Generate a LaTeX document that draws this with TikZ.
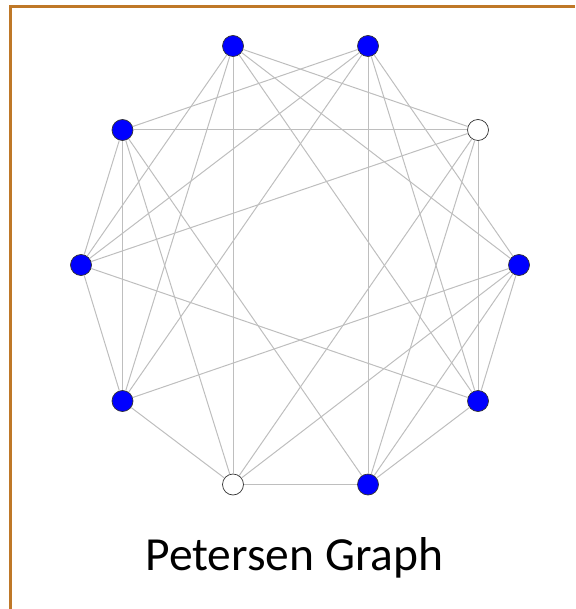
\documentclass[tikz,border=0pt]{standalone}
\usepackage{fontspec}
\setmainfont{Carlito}
\definecolor{framebrown}{RGB}{191,120,40}
\definecolor{linkgray}{RGB}{190,190,190}
\begin{document}
\begin{tikzpicture}[x=1pt,y=-1pt,
  vtx/.style={circle,draw=black!80,line width=0.7pt,minimum size=21pt,inner sep=0pt,fill=blue},
  hole/.style={vtx,fill=white},
  link/.style={linkgray,line width=1pt}]
\useasboundingbox (0,0) rectangle (575,609);
\draw[framebrown,line width=3pt] (10,609) -- (10,7) -- (575,7);
% vertices, clockwise from the right
\node[vtx]  (v0) at (519,265) {};
\node[hole] (v1) at (478,130) {};
\node[vtx]  (v2) at (368,46) {};
\node[vtx]  (v3) at (233,46) {};
\node[vtx]  (v4) at (122.5,130) {};
\node[vtx]  (v5) at (81,265) {};
\node[vtx]  (v6) at (122.5,401) {};
\node[hole] (v7) at (233,484.5) {};
\node[vtx]  (v8) at (368,484.5) {};
\node[vtx]  (v9) at (478,401) {};
% edges
\foreach \a/\b in {0/2,0/3,0/6,0/7,0/8,0/9,1/3,1/4,1/5,1/7,1/8,1/9,
  2/4,2/5,2/6,2/8,2/9,3/5,3/6,3/7,3/9,4/5,4/6,4/7,4/8,5/6,5/9,6/7,7/8,8/9}
  \draw[link] (v\a) -- (v\b);
\node[font=\fontsize{47.5}{52}\selectfont,anchor=base] (title) at (294.5,570) {Petersen Graph};
\end{tikzpicture}
\end{document}
